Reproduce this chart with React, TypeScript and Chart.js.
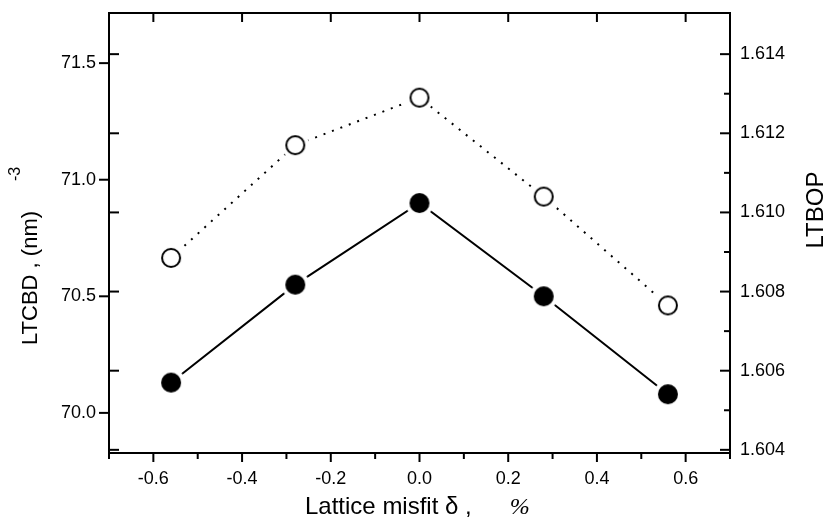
import React, { useEffect, useRef } from "react";
import { Chart, registerables } from "chart.js";

Chart.register(...registerables);

const misfit = [-0.56, -0.28, 0, 0.28, 0.56];
const ltcbd = [70.13, 70.55, 70.9, 70.5, 70.08];
const ltbop = [1.60885, 1.6117, 1.6129, 1.6104, 1.60765];

const xMajor = [-0.6, -0.4, -0.2, 0, 0.2, 0.4, 0.6];
const xMinor = [-0.7, -0.5, -0.3, -0.1, 0.1, 0.3, 0.5, 0.7];
const leftMajor = [70.0, 70.5, 71.0, 71.5];
const rightMajor = [1.604, 1.606, 1.608, 1.61, 1.612, 1.614];
const rightMinor = [1.605, 1.607, 1.609, 1.611, 1.613];

const SANS = "'Liberation Sans', Arial, sans-serif";

function makeMarker(filled: boolean): HTMLCanvasElement {
  const c = document.createElement("canvas");
  c.width = 30;
  c.height = 30;
  const g = c.getContext("2d")!;
  g.fillStyle = "#ffffff";
  g.beginPath();
  g.arc(15, 15, 14, 0, Math.PI * 2);
  g.fill();
  g.beginPath();
  if (filled) {
    g.fillStyle = "#000000";
    g.arc(15, 15, 10, 0, Math.PI * 2);
    g.fill();
  } else {
    g.strokeStyle = "#000000";
    g.lineWidth = 2;
    g.arc(15, 15, 9, 0, Math.PI * 2);
    g.stroke();
  }
  return c;
}

const zeroPad = (s: any) => {
  s.paddingTop = 0;
  s.paddingBottom = 0;
  s.paddingLeft = 0;
  s.paddingRight = 0;
};

const framePlugin = {
  id: "framePlugin",
  afterDraw(chart: any) {
    const ctx = chart.ctx;
    const { left, right, top, bottom } = chart.chartArea;
    const xs = chart.scales.x;
    const ys = chart.scales.y;
    const y1 = chart.scales.y1;
    ctx.save();
    ctx.strokeStyle = "#000";
    ctx.lineWidth = 2;
    ctx.lineCap = "butt";
    ctx.strokeRect(left, top, right - left, bottom - top);
    const line = (x0: number, y0: number, x1: number, y1p: number) => {
      ctx.beginPath();
      ctx.moveTo(x0, y0);
      ctx.lineTo(x1, y1p);
      ctx.stroke();
    };
    xMajor.forEach((v) => {
      const px = xs.getPixelForValue(v);
      line(px, bottom, px, bottom + 9);
      line(px, top, px, top + 9);
    });
    xMinor.forEach((v) => {
      const px = xs.getPixelForValue(v);
      line(px, bottom, px, bottom + 6);
    });
    leftMajor.forEach((v) => {
      const py = ys.getPixelForValue(v);
      line(left - 10, py, left, py);
    });
    rightMajor.forEach((v) => {
      const py = y1.getPixelForValue(v);
      line(right - 10, py, right, py);
      line(left, py, left + 10, py);
    });
    rightMinor.forEach((v) => {
      const py = y1.getPixelForValue(v);
      line(right - 6, py, right, py);
    });

    ctx.fillStyle = "#000";
    // x title
    ctx.textBaseline = "alphabetic";
    ctx.textAlign = "left";
    ctx.font = `24px ${SANS}`;
    const xt = "Lattice misfit \u03b4 ,";
    const x0 = 305;
    ctx.fillText(xt, x0, 514);
    const w = ctx.measureText(xt).width;
    ctx.font = `italic 24px 'Liberation Serif', serif`;
    ctx.fillText("%", x0 + w + 38, 514);

    // left title
    ctx.save();
    ctx.translate(37, 345);
    ctx.rotate(-Math.PI / 2);
    ctx.font = `22px ${SANS}`;
    const lt = "LTCBD , (nm)";
    ctx.fillText(lt, 0, 0);
    const lw = ctx.measureText(lt).width;
    ctx.font = `16px ${SANS}`;
    ctx.fillText("-3", lw + 30, -17);
    ctx.restore();

    // right title
    ctx.save();
    ctx.translate(823, 210);
    ctx.rotate(-Math.PI / 2);
    ctx.font = `24px ${SANS}`;
    ctx.textAlign = "center";
    ctx.fillText("LTBOP", 0, 0);
    ctx.restore();
    ctx.restore();
  },
};

export default function App() {
  const ref = useRef<HTMLCanvasElement>(null);
  useEffect(() => {
    const filled = makeMarker(true);
    const open = makeMarker(false);
    const chart = new Chart(ref.current!, {
      type: "line",
      data: {
        datasets: [
          {
            label: "LTCBD",
            data: misfit.map((x, i) => ({ x, y: ltcbd[i] })),
            yAxisID: "y",
            borderColor: "#000",
            borderWidth: 2,
            pointStyle: filled as any,
            pointRadius: 10,
            pointHoverRadius: 10,
            tension: 0,
          },
          {
            label: "LTBOP",
            data: misfit.map((x, i) => ({ x, y: ltbop[i] })),
            yAxisID: "y1",
            borderColor: "#000",
            borderWidth: 2,
            borderDash: [2, 7],
            pointStyle: open as any,
            pointRadius: 10,
            pointHoverRadius: 10,
            tension: 0,
          },
        ],
      },
      options: {
        animation: false,
        responsive: false,
        layout: { padding: { top: 13, left: 0, right: 0, bottom: 0 } },
        plugins: { legend: { display: false }, tooltip: { enabled: false } },
        scales: {
          x: {
            type: "linear",
            min: -0.7,
            max: 0.7,
            grid: { display: false, drawTicks: false },
            border: { display: false },
            afterBuildTicks: (s: any) => {
              s.ticks = xMajor.map((v) => ({ value: v }));
            },
            afterFit: (s: any) => {
              s.height = 76;
              zeroPad(s);
            },
            ticks: {
              padding: 15,
              color: "#000",
              font: { family: SANS, size: 18 },
              callback: (v: any) => Number(v).toFixed(1),
              maxRotation: 0,
            },
          },
          y: {
            type: "linear",
            position: "left",
            min: 69.828,
            max: 71.715,
            grid: { display: false, drawTicks: false },
            border: { display: false },
            afterBuildTicks: (s: any) => {
              s.ticks = leftMajor.map((v) => ({ value: v }));
            },
            afterFit: (s: any) => {
              s.width = 109;
              zeroPad(s);
            },
            ticks: {
              padding: 13,
              color: "#000",
              font: { family: SANS, size: 18 },
              callback: (v: any) => Number(v).toFixed(1),
            },
          },
          y1: {
            type: "linear",
            position: "right",
            min: 1.60392,
            max: 1.61504,
            grid: { display: false, drawTicks: false },
            border: { display: false },
            afterBuildTicks: (s: any) => {
              s.ticks = rightMajor.map((v) => ({ value: v }));
            },
            afterFit: (s: any) => {
              s.width = 96;
              zeroPad(s);
            },
            ticks: {
              padding: 10,
              color: "#000",
              font: { family: SANS, size: 18 },
              callback: (v: any) => Number(v).toFixed(3),
            },
          },
        },
      },
      plugins: [framePlugin],
    });
    return () => chart.destroy();
  }, []);
  return (
    <div style={{ position: "fixed", left: 0, top: 0, width: 826, height: 529, background: "#fff" }}>
      <canvas ref={ref} width={826} height={529} style={{ display: "block" }} />
    </div>
  );
}
